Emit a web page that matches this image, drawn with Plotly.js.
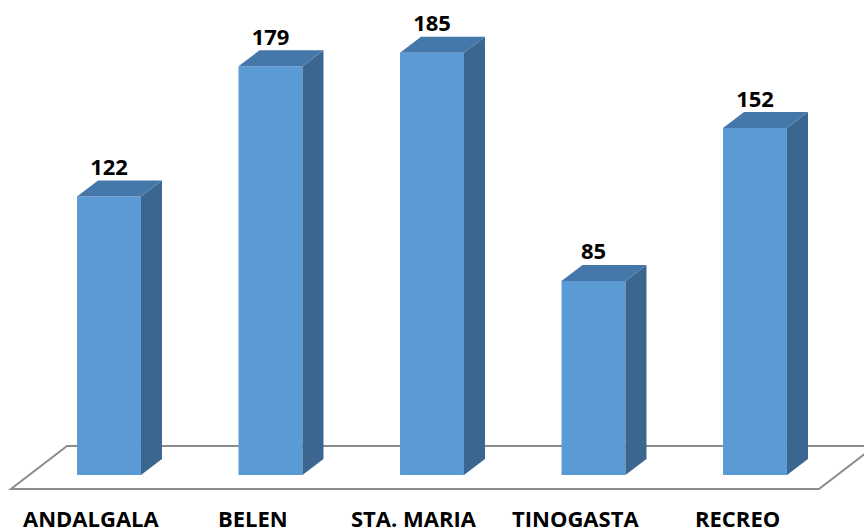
<!DOCTYPE html>
<html>
<head>
<meta charset="utf-8">
<script src="https://cdn.plot.ly/plotly-3.0.1.min.js"></script>
<style>html,body{margin:0;padding:0;background:#fff;}#chart{width:864px;height:532px;}</style>
</head>
<body>
<div id="chart"></div>
<script>
// ---- data ----
const categories = ["ANDALGALA", "BELEN", "STA. MARIA", "TINOGASTA", "RECREO"];
const values = [122, 179, 185, 85, 152];
const valueLabels = ["122", "179", "185", "85", "152"];

// ---- style / geometry constants ----
const BAR_W = 0.396;      // front face width (x units)
const DX = 0.13;          // depth offset in x units
const DY = 7.0;           // depth offset in y units
const FRONT = "#5b9bd5", TOP = "#4677aa", SIDE = "#3b6690";
const FONT = "Open Sans, Lato, DejaVu Sans, sans-serif";

const xs = categories.map((_, i) => i);

// side & top faces, built from the values
const sideX = [], sideY = [], topX = [], topY = [];
xs.forEach((x, i) => {
  const v = values[i], l = x - BAR_W / 2, r = x + BAR_W / 2;
  sideX.push(r, r + DX, r + DX, r, r, null);
  sideY.push(0, DY, v + DY, v, 0, null);
  topX.push(l, l + DX, r + DX, r, l, null);
  topY.push(v, v + DY, v + DY, v, v, null);
});

const n = categories.length;
// floor parallelogram (decoration)
const fl = { x0: -0.607, x1: n - 1 + 0.396, y0: -6.1, y1: 12.7, sx: 0.347 };
const floorPath = `M ${fl.x0} ${fl.y0} L ${fl.x1} ${fl.y0} L ${fl.x1 + fl.sx} ${fl.y1} L ${fl.x0 + fl.sx} ${fl.y1} Z`;

const traces = [
  { type: "bar", x: xs, y: values, width: BAR_W, marker: { color: FRONT, line: { width: 0 } },
    hoverinfo: "skip", showlegend: false },
  { type: "scatter", mode: "lines", x: sideX, y: sideY, fill: "toself", fillcolor: SIDE,
    line: { width: 0, color: SIDE }, hoverinfo: "skip", showlegend: false },
  { type: "scatter", mode: "lines", x: topX, y: topY, fill: "toself", fillcolor: TOP,
    line: { width: 0, color: TOP }, hoverinfo: "skip", showlegend: false },
  { type: "scatter", mode: "text", x: xs, y: values.map(v => v + DY), text: valueLabels,
    textposition: "top center", textfont: { family: FONT, size: 22, color: "#000", weight: "bold" },
    cliponaxis: false, hoverinfo: "skip", showlegend: false }
];

const annotations = categories.map((c, i) => ({
  x: i - 0.11, y: -18.9, xref: "x", yref: "y", text: "<b>" + c + "</b>", showarrow: false,
  font: { family: FONT, size: 22, color: "#000" }, xanchor: "center", yanchor: "middle"
}));

const layout = {
  width: 864, height: 532,
  margin: { l: 0, r: 0, t: 0, b: 0 },
  paper_bgcolor: "#fff", plot_bgcolor: "#fff",
  xaxis: { range: [-0.6749, 4.6749], visible: false, fixedrange: true },
  yaxis: { range: [-24.97, 208.06], visible: false, fixedrange: true },
  shapes: [{ type: "path", path: floorPath, xref: "x", yref: "y", layer: "below",
    line: { color: "#8c8c8c", width: 2 }, fillcolor: "rgba(255,255,255,0)" }],
  annotations: annotations,
  showlegend: false
};

Plotly.newPlot("chart", traces, layout, { staticPlot: true, displayModeBar: false });
</script>
</body>
</html>
